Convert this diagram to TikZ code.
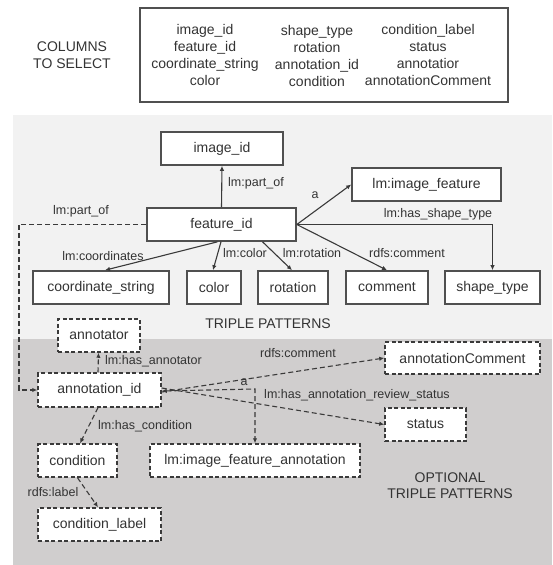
\documentclass[tikz,border=0pt]{standalone}
\usepackage{fontspec}
\setmainfont{Liberation Sans}
\usetikzlibrary{arrows.meta}
\definecolor{txt}{HTML}{333333}
\definecolor{bord}{HTML}{505050}
\definecolor{edgec}{HTML}{3A3A3A}
\definecolor{lightbg}{HTML}{F2F2F2}
\definecolor{darkbg}{HTML}{D0CECE}
\tikzset{
  sbox/.style={draw=bord, line width=1.6pt, fill=white, minimum height=33pt, inner sep=0pt, text=txt, font=\fontsize{14}{16}\selectfont},
  dbox/.style={sbox, line width=1.5pt, draw=edgec, dash pattern=on 4pt off 2.5pt},
  lbl/.style={text=txt, inner sep=0pt, font=\fontsize{12.5}{14}\selectfont},
  edge/.style={draw=edgec, line width=1.1pt, -{Latex[length=5pt,width=4.5pt]}},
  dedge/.style={edge, dash pattern=on 5pt off 3pt},
  plain/.style={text=txt, inner sep=0pt, align=center, font=\fontsize{14}{17}\selectfont}
}
\begin{document}
\begin{tikzpicture}[x=1pt,y=-1pt]
\useasboundingbox (0,0) rectangle (552,565);
% backgrounds
\fill[lightbg] (13,115) rectangle (552,339);
\fill[darkbg] (13,339) rectangle (552,565);
% columns header
\node[plain] (cols) at (72,55) {COLUMNS\\TO SELECT};
\node[draw=bord, line width=1.4pt, minimum width=368pt, minimum height=94pt, inner sep=0pt] (colbox) at (324,55) {};
\node[plain] (c1) at (205,55) {image\_id\\feature\_id\\coordinate\_string\\color};
\node[plain] (c2) at (317,55.5) {shape\_type\\rotation\\annotation\_id\\condition};
\node[plain] (c3) at (428,55) {condition\_label\\status\\annotatior\\annotationComment};
% triple patterns
\node[sbox, minimum width=122pt] (image_id) at (222,148.5) {image\_id};
\node[sbox, minimum width=149pt] (feature_id) at (221.5,224.5) {feature\_id};
\node[sbox, minimum width=149pt] (imgfeat) at (426.5,184.5) {lm:image\_feature};
\node[sbox, minimum width=136pt] (coord) at (101,287.5) {coordinate\_string};
\node[sbox, minimum width=54pt] (color) at (214,287.5) {color};
\node[sbox, minimum width=70pt] (rotation) at (293,287.5) {rotation};
\node[sbox, minimum width=82pt] (comment) at (387,287.5) {comment};
\node[sbox, minimum width=95pt] (shape) at (492.5,287.5) {shape\_type};
\node[plain] (tp) at (268,324) {TRIPLE PATTERNS};
% optional nodes
\node[dbox, minimum width=82pt] (annotator) at (99,335.5) {annotator};
\node[dbox, minimum width=123pt, minimum height=34pt] (annid) at (99.5,390) {annotation\_id};
\node[dbox, minimum width=79pt] (condition) at (77.5,460.5) {condition};
\node[dbox, minimum width=123pt] (condlabel) at (99.5,524.5) {condition\_label};
\node[dbox, minimum width=210pt] (ifa) at (255,460.5) {lm:image\_feature\_annotation};
\node[dbox, minimum width=155pt, minimum height=32pt] (anncomment) at (462.5,358) {annotationComment};
\node[dbox, minimum width=81pt] (status) at (425.5,424.5) {status};
\node[plain, font=\fontsize{14}{16}\selectfont] (otp) at (450,486) {OPTIONAL\\TRIPLE PATTERNS};
% solid edges
\draw[edge] (feature_id.north) -- (image_id.south);
\node[lbl] (l1) at (256,183) {lm:part\_of};
\draw[edge] (feature_id.east) -- (imgfeat.west);
\node[lbl] (l2) at (315,195) {a};
\draw[edge] (feature_id.east) -| (shape.north);
\node[lbl] (l3) at (438,214) {lm:has\_shape\_type};
\draw[edge] (feature_id.east) -- (comment.north);
\node[lbl] (l4) at (407,253) {rdfs:comment};
\draw[edge] ([xshift=41pt]feature_id.south) -- ([xshift=-1pt]rotation.north);
\node[lbl] (l5) at (312,253) {lm:rotation};
\draw[edge] ([xshift=-0.5pt]feature_id.south) -- ([xshift=-1pt]color.north);
\node[lbl] (l6) at (245,253) {lm:color};
\draw[edge] ([xshift=-4pt]feature_id.south) -- ([xshift=4pt]coord.north);
\node[lbl] (l7) at (103,256) {lm:coordinates};
% dashed part_of
\coordinate (corner) at (19,224.5);
\draw[dedge] (feature_id.west) -- (corner) |- (annid.west);
\node[lbl] (l8) at (81,211) {lm:part\_of};
% optional edges
\draw[dedge] ([xshift=-1.5pt]annid.north) -- ([xshift=-0.5pt]annotator.south);
\node[lbl, anchor=west] (l9) at (105,361) {lm:has\_annotator};
\draw[dedge] ([yshift=-2pt]annid.east) -- (anncomment.west);
\node[lbl] (l10) at (298,353) {rdfs:comment};
\coordinate (acorner) at (255,389);
\draw[dedge, {Latex[length=5pt,width=4.5pt]}-{Latex[length=5pt,width=4.5pt]}] ([yshift=-1pt]annid.east) -- (acorner) -- (ifa.north);
\node[lbl] (l11) at (244,382) {a};
\draw[dedge] ([yshift=2pt]annid.east) -- (status.west);
\node[lbl] (l12) at (357,395) {lm:has\_annotation\_review\_status};
\draw[dedge] ([xshift=-1.5pt]annid.south) -- ([xshift=2.5pt]condition.north);
\node[lbl, anchor=west] (l13) at (98,426) {lm:has\_condition};
\draw[dedge] (condition.south) -- ([xshift=-1.5pt]condlabel.north);
\node[lbl] (l14) at (53,492) {rdfs:label};
\end{tikzpicture}
\end{document}
